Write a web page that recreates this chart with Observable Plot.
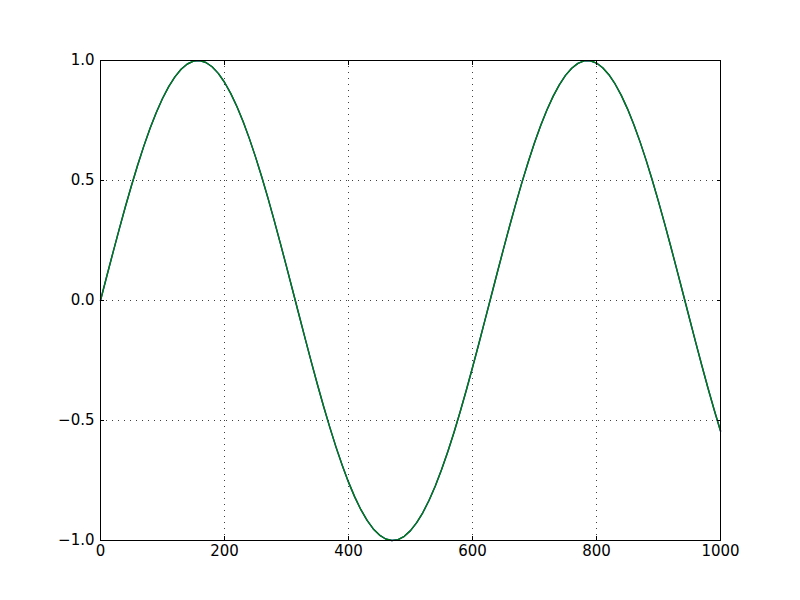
<!DOCTYPE html>
<html>
<head>
<meta charset="utf-8">
<script src="https://cdn.jsdelivr.net/npm/d3@7"></script>
<script src="https://cdn.jsdelivr.net/npm/@observablehq/plot@0.6"></script>
<style>
  html, body { margin: 0; padding: 0; background: #fff; }
  #chart svg { display: block; }
</style>
</head>
<body>
<div id="chart"></div>
<script>
// Sample positions along x (every 10 units)
const xs = d3.range(0, 1001, 10);
// Curve values at each sample position
const ys = [
  0.000, 0.0998, 0.1987, 0.2955, 0.3894, 0.4794, 0.5646, 0.6442, 0.7174, 0.7833,
  0.8415, 0.8912, 0.9320, 0.9636, 0.9854, 0.9975, 0.9996, 0.9917, 0.9738, 0.9463,
  0.9093, 0.8632, 0.8085, 0.7457, 0.6755, 0.5985, 0.5155, 0.4274, 0.3350, 0.2392,
  0.1411, 0.0416, -0.0584, -0.1577, -0.2555, -0.3508, -0.4425, -0.5298, -0.6119, -0.6878,
  -0.7568, -0.8183, -0.8716, -0.9162, -0.9516, -0.9775, -0.9937, -0.9999, -0.9962, -0.9825,
  -0.9589, -0.9258, -0.8835, -0.8323, -0.7728, -0.7055, -0.6313, -0.5507, -0.4646, -0.3739,
  -0.2794, -0.1822, -0.0831, 0.0168, 0.1165, 0.2151, 0.3115, 0.4048, 0.4941, 0.5784,
  0.6570, 0.7290, 0.7937, 0.8504, 0.8987, 0.9380, 0.9679, 0.9882, 0.9985, 0.9989,
  0.9894, 0.9699, 0.9407, 0.9022, 0.8546, 0.7985, 0.7344, 0.6630, 0.5849, 0.5010,
  0.4121, 0.3191, 0.2229, 0.1245, 0.0248, -0.0752, -0.1743, -0.2718, -0.3665, -0.4575,
  -0.5440
];
const xTicks = [0, 200, 400, 600, 800, 1000];
const yTicks = [-1.0, -0.5, 0.0, 0.5, 1.0];

const data = xs.map((x, i) => ({x, y: ys[i]}));
const fmtY = d => (d < 0 ? "\u2212" : "") + Math.abs(d).toFixed(1);
const fmtX = d => String(d);

const chart = Plot.plot({
  width: 800,
  height: 600,
  marginLeft: 100,
  marginRight: 80,
  marginTop: 60,
  marginBottom: 60,
  style: {fontFamily: "DejaVu Sans", fontSize: "15px", color: "#000", background: "#fff", overflow: "visible"},
  x: {domain: [0, 1000]},
  y: {domain: [-1, 1]},
  marks: [
    Plot.gridX(xTicks, {stroke: "#000", strokeOpacity: 0.75, strokeWidth: 1, strokeDasharray: "1,5"}),
    Plot.gridY(yTicks, {stroke: "#000", strokeOpacity: 0.75, strokeWidth: 1, strokeDasharray: "1,5"}),
    Plot.line(data, {x: "x", y: "y", stroke: "#0000ff", strokeWidth: 1.4}),
    Plot.line(data, {x: "x", y: "y", stroke: "#008000", strokeWidth: 1.4}),
    Plot.axisX(xTicks, {anchor: "bottom", tickSize: -4, tickPadding: 9, tickFormat: fmtX, label: null, fontSize: 15}),
    Plot.axisX(xTicks, {anchor: "top", tickSize: -4, tickFormat: () => "", label: null}),
    Plot.axisY(yTicks, {anchor: "left", tickSize: -4, tickPadding: 10, tickFormat: fmtY, label: null, fontSize: 15}),
    Plot.axisY(yTicks, {anchor: "right", tickSize: -4, tickFormat: () => "", label: null}),
    Plot.frame({stroke: "#000", strokeWidth: 1})
  ]
});
document.getElementById("chart").appendChild(chart);
</script>
</body>
</html>
